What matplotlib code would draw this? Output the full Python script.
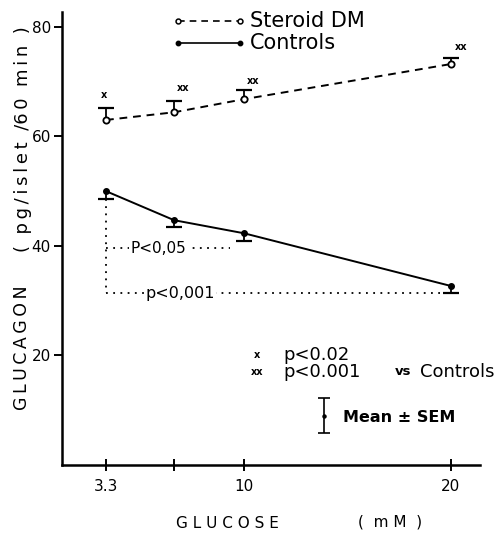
import matplotlib
matplotlib.use("Agg")
import matplotlib.pyplot as plt

# Glucose concentrations (mM)
glucose = [3.3, 6.6, 10, 20]
tick_labels = ["3.3", "", "10", "20"]

# Glucagon release (pg/islet/60 min), mean and SEM
steroid_mean = [63.0, 64.4, 66.8, 73.2]
steroid_sem = [2.1, 2.0, 1.6, 1.1]
controls_mean = [50.0, 44.7, 42.3, 32.7]
controls_sem = [1.5, 1.3, 1.4, 1.3]

# Significance marks vs controls
sig_marks = ["x", "xx", "xx", "xx"]

plt.rcParams["font.family"] = ["DejaVu Sans"]


def spaced(s, gap="\u2009"):
    """Letter-space a string with thin spaces."""
    return gap.join(s)


fig = plt.figure(figsize=(4.95, 5.37), dpi=100)
ax = fig.add_axes([0.1253, 0.134, 0.8444, 0.8436])
ax.set_xlim(1.17, 21.42)
ax.set_ylim(0, 82.7)

for s in ["top", "right"]:
    ax.spines[s].set_visible(False)
for s in ["left", "bottom"]:
    ax.spines[s].set_linewidth(1.8)

ax.set_yticks([20, 40, 60, 80])
ax.set_yticklabels(["20", "40", "60", "80"], fontsize=11)
ax.set_xticks(glucose)
ax.set_xticklabels(tick_labels, fontsize=11)
ax.tick_params(axis="y", direction="out", length=6, width=1.4, pad=2)
ax.tick_params(axis="x", direction="inout", length=8, width=1.4, pad=6)

lw_err = 1.3


def sem_bars(x, mean, sem, upward):
    """Half error bars with a cap at the outer end only."""
    ends = [m + s if upward else m - s for m, s in zip(mean, sem)]
    ax.vlines(x, mean, ends, color="black", lw=lw_err)
    ax.plot(x, ends, "_", ms=12, mew=1.6, color="black", ls="none")


# Steroid DM: dashed line, open circles, upper SEM
sem_bars(glucose, steroid_mean, steroid_sem, upward=True)
ax.plot(glucose, steroid_mean, color="black", ls=(0, (4, 3)), lw=1.4)
ax.plot(glucose, steroid_mean, "o", ms=4.5, mfc="white", mec="black", mew=1.3)

# Controls: solid line, filled dots, lower SEM
sem_bars(glucose, controls_mean, controls_sem, upward=False)
ax.plot(glucose, controls_mean, color="black", lw=1.4)
ax.plot(glucose, controls_mean, "o", ms=4, color="black")

# Significance marks above steroid points
mark_dx = [-0.1, 0.43, 0.42, 0.5]
mark_dy = [2.4, 2.4, 1.7, 2.0]
for x, y, sem, m, dx, dy in zip(glucose, steroid_mean, steroid_sem, sig_marks,
                                mark_dx, mark_dy):
    ax.text(x + dx, y + sem + dy, m, fontsize=7, fontweight="bold",
            ha="center", va="center")

# Legend drawn in data space
ax.plot([6.78, 9.79], [81.0, 81.0], color="black", ls=(0, (4, 3)), lw=1.2)
ax.plot([6.78, 9.79], [81.0, 81.0], "o", ms=3.5, mfc="white", mec="black", mew=1.1)
ax.text(10.27, 81.0, "Steroid DM", fontsize=15, va="center", ha="left")
ax.plot([6.78, 9.79], [77.0, 77.0], color="black", lw=1.2)
ax.plot([6.78, 9.79], [77.0, 77.0], "o", ms=3.2, color="black")
ax.text(10.27, 77.0, "Controls", fontsize=15, va="center", ha="left")

# Within-group comparisons vs 3.3 mM
low_cap = controls_mean[0] - controls_sem[0]
p001_y = controls_mean[3] - controls_sem[3]
p05_y = 39.6
dot = dict(color="black", ls=(0, (1, 3)), lw=1.3)
ax.plot([3.3, 3.3], [low_cap, p001_y], **dot)
ax.plot([3.3, 9.3], [p05_y, p05_y], **dot)
ax.plot([3.3, 19.47], [p001_y, p001_y], **dot)
bbox = dict(facecolor="white", edgecolor="none", pad=1)
ax.text(5.84, p05_y, "P<0,05", fontsize=11, ha="center", va="center", bbox=bbox)
ax.text(6.88, p001_y, "p<0,001", fontsize=11.5, ha="center", va="center", bbox=bbox)

# Key for significance marks and error bars
ax.text(10.6, 20.1, "x", fontsize=7, fontweight="bold", ha="center", va="center")
ax.text(11.87, 20.1, "p<0.02", fontsize=13, ha="left", va="center")
ax.text(10.6, 17.0, "xx", fontsize=7, fontweight="bold", ha="center", va="center")
ax.text(11.87, 17.0, "p<0.001", fontsize=13, ha="left", va="center")
ax.text(17.29, 17.0, "vs", fontsize=9.5, fontweight="bold", ha="left", va="center")
ax.text(18.5, 17.0, "Controls", fontsize=13, ha="left", va="center", clip_on=False)
ax.vlines([13.85], [5.8], [12.2], color="black", lw=1.2)
ax.plot([13.85, 13.85], [5.8, 12.2], "_", ms=8, mew=1.2, color="black", ls="none")
ax.plot([13.85], [9.0], "o", ms=2.2, color="black")
ax.text(14.77, 8.6, "Mean \u00b1 SEM", fontsize=11.5, fontweight="bold",
        ha="left", va="center")

# Axis titles
fig.text(0.044, 0.352, spaced("GLUCAGON"), rotation=90, fontsize=12.5,
         ha="center", va="center")
fig.text(0.046, 0.74, "(  " + spaced("pg/islet") + "  /" + spaced("60") + "  "
         + spaced("min") + "  )", rotation=90, fontsize=13, ha="center",
         va="center")
fig.text(0.46, 0.026, "G L U C O S E", fontsize=11, ha="center", va="center")
fig.text(0.788, 0.028, "(  m M  )", fontsize=11, ha="center", va="center")

fig.savefig("out.png", dpi=100)
